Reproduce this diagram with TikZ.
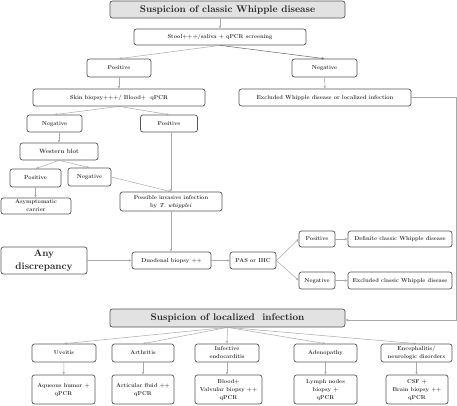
\documentclass[tikz,border=0pt]{standalone}
\usepackage{graphicx}
\usetikzlibrary{arrows.meta}
\definecolor{linegray}{HTML}{A8A8A8}
\definecolor{boxgray}{HTML}{555555}
\definecolor{txtgray}{HTML}{333333}
\definecolor{titlefill}{HTML}{E2E2E2}
\tikzset{
  box/.style={draw=boxgray, line width=0.7pt, rounded corners=2.5pt, align=center,
    inner sep=0pt, text=txtgray, font=\fontsize{10}{14}\selectfont\bfseries, /utils/exec=\def\txs{0.57}},
  bigbox/.style={box, fill=titlefill, text=black!85, font=\fontsize{10}{13}\selectfont\bfseries, /utils/exec=\def\txs{0.97}},
  anybox/.style={box, text=black!85, font=\fontsize{10}{13.4}\selectfont\bfseries, /utils/exec=\def\txs{0.97}},
  wbbox/.style={box, /utils/exec=\def\txs{0.61}},
  conn/.style={draw=linegray, line width=0.5pt, -{Stealth[length=3pt,width=2.4pt]}},
}
\newcommand{\bx}[6][box]{\node[#1, minimum width=#4, minimum height=#5] (#2) at #3 {\scalebox{\txs}{\begin{tabular}{@{}c@{}}#6\end{tabular}}};}
\begin{document}
\begin{tikzpicture}[x=1pt,y=-1pt]
\useasboundingbox (0,0) rectangle (457,405);
% nodes
\bx[bigbox]{title}{(227.5,9.5)}{235pt}{17pt}{Suspicion of classic Whipple disease}
\bx{stool}{(220,37)}{172pt}{16pt}{Stool+++/saliva + qPCR screening}
\bx{posA}{(119,68)}{64pt}{18pt}{Positive}
\bx{negA}{(324.5,68)}{65pt}{18pt}{Negative}
\bx{skin}{(119,97.5)}{172pt}{17pt}{Skin biopsy+++/ Blood+\ \ qPCR}
\bx{excl}{(325,97.5)}{172pt}{17pt}{Excluded Whipple disease or localized infection}
\bx{negB}{(54.5,123.5)}{55pt}{17pt}{Negative}
\bx{posB}{(169,123.5)}{57pt}{17pt}{Positive}
\bx[wbbox]{wb}{(59,151.5)}{78pt}{17pt}{Western blot}
\bx{posC}{(35.5,178)}{51pt}{18pt}{Positive}
\bx{negC}{(89.5,177)}{43pt}{18pt}{Negative}
\bx{asym}{(36,206)}{70pt}{16pt}{Asymptomatic\\carrier}
\bx{poss}{(171,201.5)}{102pt}{19pt}{Possible invasive infection\\by \textit{T. whipplei}}
\bx[anybox]{any}{(44,260.5)}{86pt}{27pt}{Any\\discrepancy}
\bx{duod}{(171.5,260.5)}{79pt}{17pt}{Duodenal biopsy ++}
\bx{pas}{(253,260.5)}{46pt}{17pt}{PAS or IHC}
\bx{posD}{(317,239)}{36pt}{16pt}{Positive}
\bx{defin}{(400,239)}{104pt}{16pt}{Definite classic Whipple disease}
\bx{negD}{(317,280.5)}{36pt}{17pt}{Negative}
\bx{exclc}{(400,280.5)}{104pt}{17pt}{Excluded classic Whipple disease}
\bx[bigbox]{loc}{(227.5,318)}{235pt}{18pt}{Suspicion of localized\ \ infection}
\bx{uv}{(64,353)}{64pt}{18pt}{Uveitis}
\bx{ar}{(143,353)}{62pt}{18pt}{Arthritis}
\bx{ie}{(227,353)}{64pt}{18pt}{Infective\\endocarditis}
\bx{ad}{(325.5,353)}{63pt}{18pt}{Adenopathy}
\bx{en}{(416.5,353)}{71pt}{18pt}{Encephalitis/\\neurologic disorders}
\bx{aq}{(63.5,389.5)}{63pt}{29pt}{Aqueous humor +\\qPCR}
\bx{af}{(143,389.5)}{62pt}{29pt}{Articular fluid ++\\qPCR}
\bx{bl}{(228.5,389.5)}{67pt}{29pt}{Blood+\\Valvular biopsy ++\\qPCR}
\bx{ly}{(325.5,389.5)}{63pt}{29pt}{Lymph nodes\\biopsy +\\qPCR}
\bx{cs}{(417,389.5)}{62pt}{29pt}{CSF +\\Brain biopsy ++\\qPCR}
% connectors
\draw[conn] (title.south -| stool.north) -- (stool.north);
\draw[conn] (stool.south) -- (posA.north);
\draw[conn, draw=black!60] (stool.south) -- (negA.north);
\draw[conn] (posA) -- (skin);
\draw[conn] (negA) -- (excl);
\draw[conn] (skin.south) -- (negB.north);
\draw[conn] (skin.south) -- (posB.north);
\draw[conn] (negB.south -| wb.north) -- (wb.north);
\draw[conn] (wb.south) -- (posC.north);
\draw[conn] (wb.south) -- (negC.north);
\draw[conn] (posC.south) -- (posC.south |- asym.north);
\draw[conn] (negC.east) -- (poss.north);
\draw[conn] (poss.north |- posB.south) -- (poss.north);
\draw[conn] (poss.south) -- (poss.south |- duod.north);
\draw[conn] (any.east) -- (any.east -| duod.west);
\draw[conn] (duod.east) -- (pas.west);
\draw[conn] (pas.east) -- (posD.west);
\draw[conn] (pas.east) -- (negD.west);
\draw[conn] (posD) -- (defin);
\draw[conn] (negD) -- (exclc);
\coordinate (c1) at (456,97.5);
\coordinate (c2) at (456,320);
\draw[conn] (excl.east) -- (c1) -- (c2) -- (loc.east |- c2);
\foreach \n in {uv,ar,ie,ad,en}{\draw[conn] (loc.south) -- (\n.north);}
\draw[conn] (uv) -- (aq);
\draw[conn] (ar) -- (af);
\draw[conn] (ie.south) -- (ie.south |- bl.north);
\draw[conn] (ad) -- (ly);
\draw[conn] (en.south) -- (en.south |- cs.north);
\end{tikzpicture}
\end{document}
